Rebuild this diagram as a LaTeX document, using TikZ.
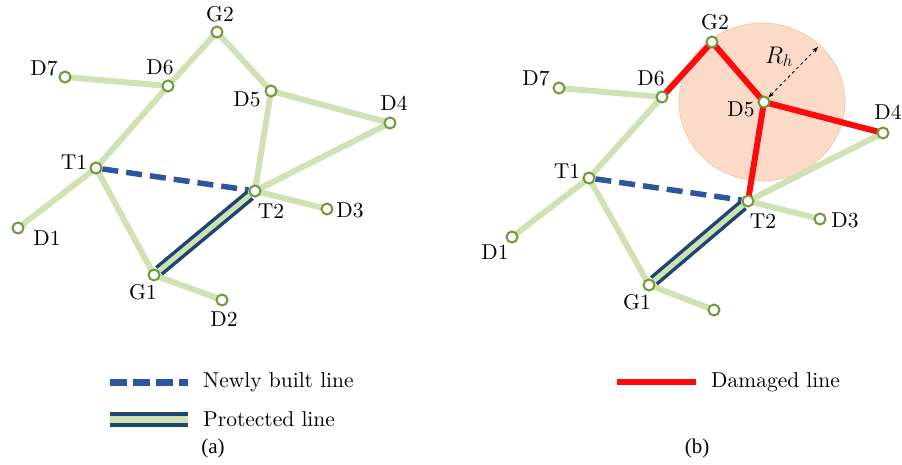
\documentclass[tikz,border=0pt]{standalone}
\usepackage{fontspec}
\usepackage{fix-cm}
\newfontfamily\capfont{Liberation Serif}
\newfontfamily\lmten[Extension=.otf]{lmroman10-regular}
\usetikzlibrary{arrows.meta}
\pgfdeclarelayer{background}
\pgfdeclarelayer{back2}
\pgfsetlayers{back2,background,main}
\definecolor{ringgreen}{RGB}{110,155,55}
\definecolor{edgegreen}{RGB}{208,226,180}
\definecolor{newblue}{RGB}{45,85,160}
\definecolor{protnavy}{RGB}{28,70,115}
\definecolor{dmgred}{RGB}{255,10,10}
\definecolor{zonefill}{RGB}{251,218,200}
\definecolor{zoneedge}{RGB}{245,195,165}
\tikzset{
  bus/.style={circle,draw=ringgreen,fill=white,line width=2pt,minimum size=11pt,inner sep=0pt},
  lbl/.style={inner sep=0pt,font=\lmten\fontsize{21.5}{25}\selectfont},
  gline/.style={draw=edgegreen,line width=6pt},
  newline/.style={draw=newblue,line width=5.5pt,dash pattern=on 16pt off 8pt},
  protouter/.style={draw=protnavy,line width=12pt},
  protinner/.style={draw=edgegreen,line width=5pt},
  dmgline/.style={draw=dmgred,line width=6pt},
  sub/.style={inner sep=0pt,font=\capfont\fontsize{21}{25}\selectfont}
}
\begin{document}
\begin{tikzpicture}[x=1pt,y=-1pt]
\useasboundingbox (0,0) rectangle (902,465);
% ---------- panel (a) ----------
\node[bus] (aG2) at (217,32) {};
\node[bus] (aD7) at (65,77) {};
\node[bus] (aD6) at (168,86) {};
\node[bus] (aD5) at (271,91) {};
\node[bus] (aD4) at (390,123) {};
\node[bus] (aT1) at (96,168) {};
\node[bus] (aT2) at (255,191) {};
\node[bus] (aD3) at (327,209) {};
\node[bus] (aD1) at (18,228) {};
\node[bus] (aG1) at (154,275) {};
\node[bus] (aD2) at (222,300) {};
\node[lbl] (laG2) at (220,14) {G2};
\node[lbl] (laD7) at (44,68) {D7};
\node[lbl] (laD6) at (160,67) {D6};
\node[lbl] (laD5) at (247,99) {D5};
\node[lbl] (laD4) at (394,103) {D4};
\node[lbl] (laT1) at (74,162) {T1};
\node[lbl] (laT2) at (271,211) {T2};
\node[lbl] (laD3) at (350,210) {D3};
\node[lbl] (laD1) at (47,238) {D1};
\node[lbl] (laG1) at (143,292) {G1};
\node[lbl] (laD2) at (224,319) {D2};
\begin{pgfonlayer}{background}
\draw[gline] (aG2.center) -- (aD6.center);
\draw[gline] (aG2.center) -- (aD5.center);
\draw[gline] (aD7.center) -- (aD6.center);
\draw[gline] (aD6.center) -- (aT1.center);
\draw[gline] (aD5.center) -- (aD4.center);
\draw[gline] (aD5.center) -- (aT2.center);
\draw[gline] (aD4.center) -- (aT2.center);
\draw[gline] (aT1.center) -- (aD1.center);
\draw[gline] (aT1.center) -- (aG1.center);
\draw[gline] (aT2.center) -- (aD3.center);
\draw[gline] (aG1.center) -- (aD2.center);
\draw[newline] (aT1) -- (aT2);
\draw[protouter] (aG1) -- (aT2);
\draw[protinner] (aG1) -- (aT2);
\end{pgfonlayer}
% ---------- panel (b) ----------
\node[bus] (bG2) at (712,42) {};
\node[bus] (bD7) at (559,88) {};
\node[bus] (bD6) at (662,97) {};
\node[bus] (bD5) at (764,102) {};
\node[bus] (bD4) at (883,133) {};
\node[bus] (bT1) at (589,178) {};
\node[bus] (bT2) at (748,201) {};
\node[bus] (bD3) at (820,219) {};
\node[bus] (bD1) at (512,237) {};
\node[bus] (bG1) at (649,285) {};
\node[bus] (bD2) at (714,310) {};
\node[lbl] (lbG2) at (715,22) {G2};
\node[lbl] (lbD7) at (536,78) {D7};
\node[lbl] (lbD6) at (651,78) {D6};
\node[lbl] (lbD5) at (741,109) {D5};
\node[lbl] (lbD4) at (888,112) {D4};
\node[lbl] (lbT1) at (567,171) {T1};
\node[lbl] (lbT2) at (763,221) {T2};
\node[lbl] (lbD3) at (845,220) {D3};
\node[lbl] (lbD1) at (495,252) {D1};
\node[lbl] (lbG1) at (637,302) {G1};
\node[inner sep=0pt,font=\fontsize{24}{28}\selectfont] (lbR) at (779,57) {$R_h$};
\coordinate (Rtip) at (818,47);
\draw[dashed,line width=0.8pt,{Stealth[length=6pt]}-{Stealth[length=6pt]}] (bD5) -- (Rtip);
\begin{pgfonlayer}{back2}
\fill[zonefill,draw=zoneedge,line width=0.6pt] (762,102) ellipse [x radius=83, y radius=79];
\end{pgfonlayer}
\begin{pgfonlayer}{background}
\draw[gline] (bD7.center) -- (bD6.center);
\draw[gline] (bD6.center) -- (bT1.center);
\draw[gline] (bD4.center) -- (bT2.center);
\draw[gline] (bT1.center) -- (bD1.center);
\draw[gline] (bT1.center) -- (bG1.center);
\draw[gline] (bT2.center) -- (bD3.center);
\draw[gline] (bG1.center) -- (bD2.center);
\draw[dmgline] (bG2.center) -- (bD6.center);
\draw[dmgline] (bG2.center) -- (bD5.center);
\draw[dmgline] (bD5.center) -- (bD4.center);
\draw[dmgline] (bD5.center) -- (bT2.center);
\draw[newline] (bT1) -- (bT2);
\draw[protouter] (bG1) -- (bT2);
\draw[protinner] (bG1) -- (bT2);
\end{pgfonlayer}
% ---------- legends ----------
\coordinate (n1) at (110,382); \coordinate (n2) at (188,382);
\draw[newblue,line width=7pt,dash pattern=on 17pt off 6pt] (n1) -- (n2);
\node[lbl,anchor=west] (tn) at (203,382) {Newly built line};
\coordinate (p1) at (110,419); \coordinate (p2) at (188,419);
\draw[protouter,line width=15pt] (p1) -- (p2);
\draw[protinner,line width=7pt] (p1) -- (p2);
\node[lbl,anchor=west] (tp) at (203,419) {Protected line};
\node[sub] (capa) at (213,448) {(a)};
\coordinate (r1) at (617,382); \coordinate (r2) at (696,382);
\draw[dmgline,line width=6.5pt] (r1) -- (r2);
\node[lbl,anchor=west] (tr) at (711,382) {Damaged line};
\node[sub] (capb) at (697,448) {(b)};
\end{tikzpicture}
\end{document}
